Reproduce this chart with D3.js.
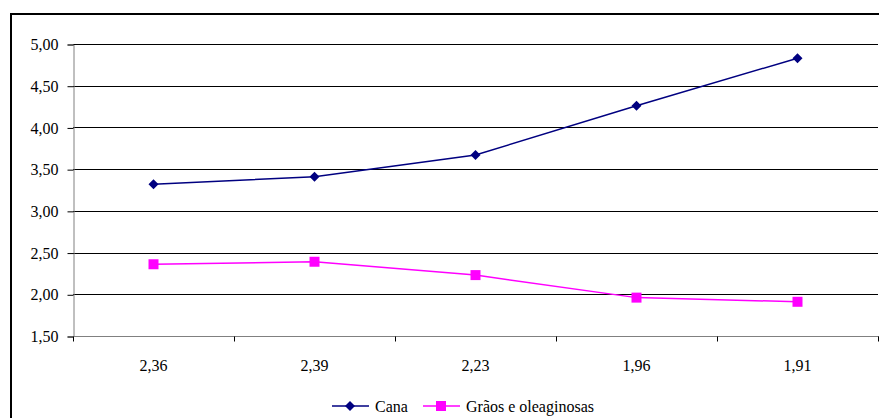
<!DOCTYPE html>
<html>
<head>
<meta charset="utf-8">
<script src="https://cdn.jsdelivr.net/npm/d3@7"></script>
<style>
	body { margin: 0; background: #fff; }
	text { font-family: "Liberation Serif", "DejaVu Serif", serif !important; font-size: 16px; }
</style>
</head>
<body>
<div id="chart"></div>
<script>
(function(){
	var width = 879,
		height = 418;

	var categories = ["2,36", "2,39", "2,23", "1,96", "1,91"];
	var cana = [3.32, 3.41, 3.67, 4.26, 4.83];
	var graos = [2.36, 2.39, 2.23, 1.96, 1.91];
	var yTicks = [1.5, 2.0, 2.5, 3.0, 3.5, 4.0, 4.5, 5.0];

	var left = 73, right = 878, top = 44, bottom = 336;

	var svg = d3.select("#chart")
		.append("svg")
		.attr("width", width)
		.attr("height", height)

	// outer frame, runs off the right and bottom edges
	svg.append("rect")
		.attr("x", 11).attr("y", 14)
		.attr("width", 900).attr("height", 440)
		.attr("fill", "none")
		.attr("stroke", "#000")
		.attr("stroke-width", 2)

	var x = d3.scaleBand().domain(categories).range([left, right])
	var y = d3.scaleLinear().domain([1.5, 5]).range([bottom, top])

	var fmt = function(d){ return d3.format(".2f")(d).replace(".", ","); }

	// gridlines
	svg.append("g")
		.selectAll("line")
		.data(yTicks.slice(1))
		.enter().append("line")
		.attr("x1", left).attr("x2", right)
		.attr("y1", function(d){ return Math.round(y(d)) + 0.5; })
		.attr("y2", function(d){ return Math.round(y(d)) + 0.5; })
		.attr("stroke", "#000")

	var yAxis = svg.append("g")
		.attr("transform", "translate(" + (left + 0.5) + ",0.5)")
		.call(d3.axisLeft(y).tickValues(yTicks).tickFormat(fmt).tickSize(6).tickPadding(9))
	yAxis.select(".domain").attr("stroke", "#808080")
	yAxis.selectAll(".tick line").attr("stroke", "#000")
	yAxis.attr("font-family", null).attr("font-size", null)

	var xAxis = svg.append("g")
		.attr("transform", "translate(0," + (bottom + 0.5) + ")")
	xAxis.append("line")
		.attr("x1", left).attr("x2", right + 1)
		.attr("stroke", "#808080")
	xAxis.selectAll(".tk")
		.data(categories.concat(["end"]))
		.enter().append("line")
		.attr("x1", function(d, i){ return Math.round(left + i * x.bandwidth()) + 0.5; })
		.attr("x2", function(d, i){ return Math.round(left + i * x.bandwidth()) + 0.5; })
		.attr("y1", 0).attr("y2", 5)
		.attr("stroke", "#000")
	xAxis.selectAll("text")
		.data(categories)
		.enter().append("text")
		.attr("x", function(d){ return x(d) + x.bandwidth() / 2; })
		.attr("y", 34)
		.attr("text-anchor", "middle")
		.text(function(d){ return d; })

	var line = d3.line()
		.x(function(d, i){ return x(categories[i]) + x.bandwidth() / 2; })
		.y(function(d){ return y(d); })

	var diamond = "M0,-5L5,0L0,5L-5,0Z";
	var square = "M-5,-5H5V5H-5Z";

	var series = [
		{ name: "Cana", values: cana, color: "#000080", shape: diamond },
		{ name: "Grãos e oleaginosas", values: graos, color: "#FF00FF", shape: square }
	]

	series.forEach(function(s){
		svg.append("path")
			.datum(s.values)
			.attr("d", line)
			.attr("fill", "none")
			.attr("stroke", s.color)
			.attr("stroke-width", 1.5)
		svg.append("g")
			.selectAll("path")
			.data(s.values)
			.enter().append("path")
			.attr("d", s.shape)
			.attr("transform", function(d, i){
				return "translate(" + (x(categories[i]) + x.bandwidth() / 2) + "," + y(d) + ")";
			})
			.attr("fill", s.color)
	})

	// legend
	var legendPos = [332, 423];
	var legend = svg.append("g")
	series.forEach(function(s, i){
		var g = legend.append("g").attr("transform", "translate(" + legendPos[i] + ",406)")
		g.append("line")
			.attr("x1", 0).attr("x2", 37)
			.attr("stroke", s.color).attr("stroke-width", 1.5)
		g.append("path")
			.attr("d", s.shape)
			.attr("transform", "translate(18,0)")
			.attr("fill", s.color)
		g.append("text")
			.attr("x", 43).attr("y", 6)
			.text(s.name)
	})
})();
</script>
</body>
</html>
